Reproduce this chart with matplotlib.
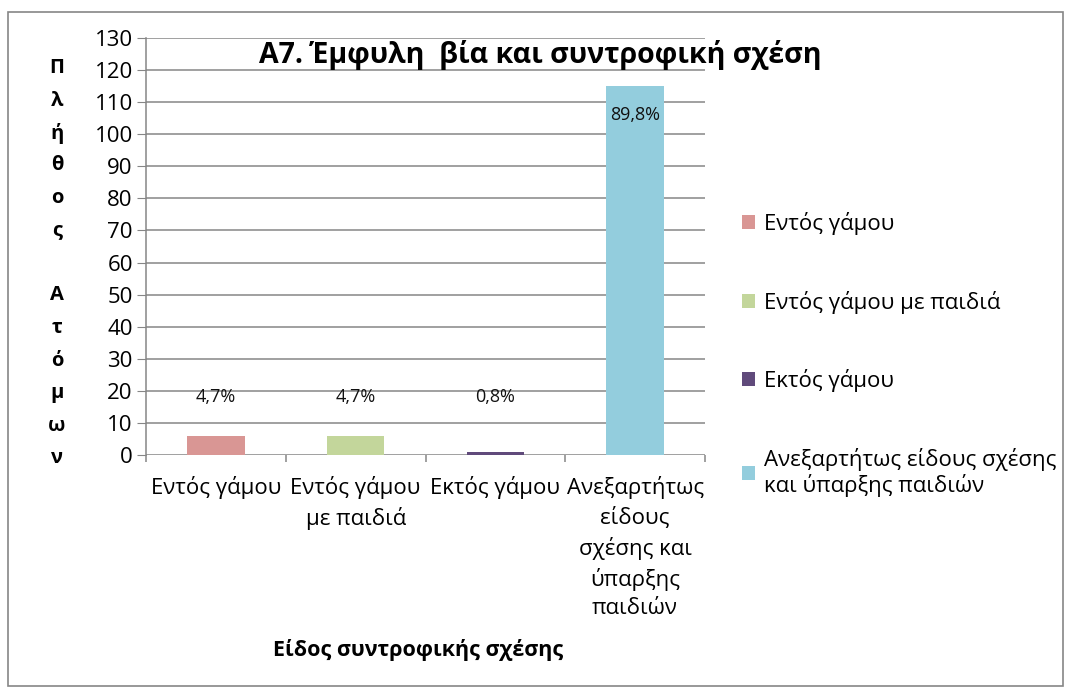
import matplotlib.pyplot as plt
from matplotlib.patches import Rectangle

plt.rcParams['font.family'] = ['Open Sans', 'DejaVu Sans']

categories = ['Εντός γάμου', 'Εντός γάμου\nμε παιδιά', 'Εκτός γάμου',
              'Ανεξαρτήτως\nείδους\nσχέσης και\nύπαρξης\nπαιδιών']
legend_labels = ['Εντός γάμου', 'Εντός γάμου με παιδιά', 'Εκτός γάμου',
                 'Ανεξαρτήτως είδους σχέσης\nκαι ύπαρξης παιδιών']
counts = [6, 6, 1, 115]
pct_labels = ['4,7%', '4,7%', '0,8%', '89,8%']
colors = ['#D99694', '#C3D69B', '#604A7B', '#93CDDD']
yticks = list(range(0, 131, 10))

W, H = 1066, 688
fig = plt.figure(figsize=(W / 100, H / 100), dpi=100)

# outer chart border
fig.patches.append(Rectangle((8 / W, 2 / H), 1055 / W, 674 / H, transform=fig.transFigure,
                             fill=False, edgecolor='#868686', linewidth=1.2))

ax = fig.add_axes([146 / W, 1 - 455 / H, (705 - 146) / W, (455 - 38) / H])

x = list(range(len(counts)))
handles = []
for i in x:
    b = ax.bar(i, counts[i], width=0.41, color=colors[i], zorder=3, label=legend_labels[i])
    handles.append(b)
    ly = 18 if counts[i] < 50 else counts[i] - 9
    ax.text(i, ly, pct_labels[i], ha='center', va='center', fontsize=13, color='#111111', zorder=4)

ax.set_xlim(-0.5, 3.5)
ax.set_ylim(0, 130)
ax.set_yticks(yticks)
ax.tick_params(axis='y', labelsize=16, length=6.5, color='#868686', pad=3)
ax.yaxis.grid(True, color='#868686', linewidth=1.1, zorder=0)

ax.set_xticks([-0.5, 0.5, 1.5, 2.5, 3.5])
ax.set_xticklabels([])
ax.tick_params(axis='x', length=5, color='#868686', width=1.1)
for i in x:
    ax.text(i, -0.05, categories[i], transform=ax.get_xaxis_transform(), ha='center', va='top',
            fontsize=16, linespacing=1.45)

for s in ['top', 'right', 'bottom']:
    ax.spines[s].set_visible(False)
ax.spines['left'].set_color('#868686')
ax.spines['left'].set_linewidth(1.1)

fig.text(540 / W, 1 - 55 / H, 'Α7. Έμφυλη  βία και συντροφική σχέση', ha='center', va='center',
         fontsize=20.5, fontweight='bold')

# vertical stacked y-axis title
ylabel = 'Πλήθος Ατόμων'
for k, ch in enumerate(ylabel):
    fig.text(57 / W, 1 - (68 + 32.5 * k) / H, ch, ha='center', va='center',
             fontsize=14.5, fontweight='bold')

fig.text(418 / W, 1 - 650 / H, 'Είδος συντροφικής σχέσης', ha='center', va='center',
         fontsize=15.5, fontweight='bold')

fig.legend(handles=handles, loc='upper left', bbox_to_anchor=(722 / W, 1 - 192 / H),
           frameon=False, fontsize=16, handlelength=0.6, handleheight=0.6,
           handletextpad=0.4, labelspacing=2.5)

fig.savefig('out.png', dpi=100)
